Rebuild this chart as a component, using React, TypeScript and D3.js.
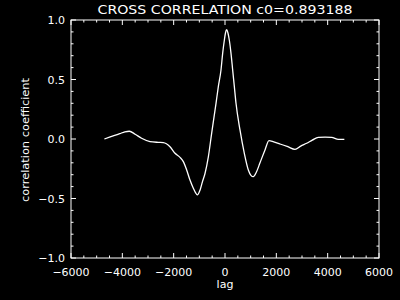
import React from "react";
import * as d3 from "d3";

const lags = [-4700, -4500, -4300, -4100, -3900, -3727, -3500, -3250, -2922, -2600, -2403, -2143, -1948, -1753, -1623, -1493, -1364, -1234, -1150, -1078, -974, -880, -779, -649, -519, -350, -260, -156, -91, -26, 20, 65, 110, 169, 234, 299, 364, 429, 584, 753, 909, 1010, 1104, 1220, 1364, 1558, 1714, 1900, 2143, 2450, 2727, 2950, 3182, 3400, 3636, 3900, 4156, 4416, 4650];
const corr = [0.0, 0.015, 0.03, 0.045, 0.06, 0.065, 0.04, 0.006, -0.022, -0.028, -0.03, -0.065, -0.12, -0.154, -0.19, -0.26, -0.345, -0.414, -0.45, -0.47, -0.43, -0.36, -0.29, -0.15, 0.05, 0.3, 0.44, 0.58, 0.72, 0.83, 0.893, 0.918, 0.895, 0.83, 0.72, 0.58, 0.44, 0.3, 0.076, -0.12, -0.26, -0.305, -0.317, -0.28, -0.2, -0.092, -0.014, -0.025, -0.042, -0.065, -0.087, -0.06, -0.036, -0.01, 0.014, 0.016, 0.014, -0.003, -0.003];

const xMajor = [-6000, -4000, -2000, 0, 2000, 4000, 6000];
const yMajor = [-1.0, -0.5, 0.0, 0.5, 1.0];
const titleText = "CROSS CORRELATION c0=0.893188";
const xLabel = "lag";
const yLabel = "correlation coefficient";

const W = 400, H = 300;
const L = 71, R = 379, T = 20, B = 258;
const FONT = "DejaVu Sans, sans-serif";

const fmt = (v: number, dec: number) => {
  const s = dec ? Math.abs(v).toFixed(dec) : String(Math.abs(v));
  return v < 0 ? "\u2212" + s : s;
};

export default function App() {
  const x = d3.scaleLinear().domain([-6000, 6000]).range([L, R]);
  const y = d3.scaleLinear().domain([-1, 1]).range([B, T]);
  const xMinor = d3.range(-6000, 6001, 500).filter((v) => v % 2000 !== 0);
  const yMinor = d3.range(-10, 11, 1).map((v) => v / 10).filter((v) => Math.abs((v * 10) % 5) > 1e-6);
  const pts = lags.map((l, i) => [l, corr[i]] as [number, number]);
  const line = d3.line<[number, number]>().x((d) => x(d[0])).y((d) => y(d[1])).curve(d3.curveMonotoneX);
  const maj = 5, min = 2.5;
  const c = "#fff";
  return (
    <svg width={W} height={H} style={{ position: "fixed", left: 0, top: 0, background: "#000" }}>
      <rect x={0} y={0} width={W} height={H} fill="#000" />
      <rect x={L} y={T} width={R - L} height={B - T} fill="none" stroke={c} strokeWidth={1} />
      {xMajor.map((v) => (
        <g key={"xm" + v}>
          <line x1={x(v)} x2={x(v)} y1={B} y2={B - maj} stroke={c} />
          <line x1={x(v)} x2={x(v)} y1={T} y2={T + maj} stroke={c} />
          <text x={x(v)} y={276} fill={c} fontSize={11} fontFamily={FONT} textAnchor="middle">{fmt(v, 0)}</text>
        </g>
      ))}
      {xMinor.map((v) => (
        <g key={"xn" + v}>
          <line x1={x(v)} x2={x(v)} y1={B} y2={B - min} stroke={c} />
          <line x1={x(v)} x2={x(v)} y1={T} y2={T + min} stroke={c} />
        </g>
      ))}
      {yMajor.map((v) => (
        <g key={"ym" + v}>
          <line x1={L} x2={L + maj} y1={y(v)} y2={y(v)} stroke={c} />
          <line x1={R} x2={R - maj} y1={y(v)} y2={y(v)} stroke={c} />
          <text x={65} y={y(v) + 4} fill={c} fontSize={11} fontFamily={FONT} textAnchor="end">{fmt(v, 1)}</text>
        </g>
      ))}
      {yMinor.map((v) => (
        <g key={"yn" + v}>
          <line x1={L} x2={L + min} y1={y(v)} y2={y(v)} stroke={c} />
          <line x1={R} x2={R - min} y1={y(v)} y2={y(v)} stroke={c} />
        </g>
      ))}
      <path d={line(pts) || ""} fill="none" stroke={c} strokeWidth={1.3} strokeLinejoin="round" />
      <text x={225} y={14} fill={c} fontSize={13} fontFamily={FONT} textAnchor="middle" textLength={255} lengthAdjust="spacingAndGlyphs">{titleText}</text>
      <text x={225} y={288} fill={c} fontSize={11} fontFamily={FONT} textAnchor="middle">{xLabel}</text>
      <text transform={`translate(29,140) rotate(-90)`} fill={c} fontSize={11} fontFamily={FONT} textAnchor="middle" textLength={124} lengthAdjust="spacingAndGlyphs">{yLabel}</text>
    </svg>
  );
}
